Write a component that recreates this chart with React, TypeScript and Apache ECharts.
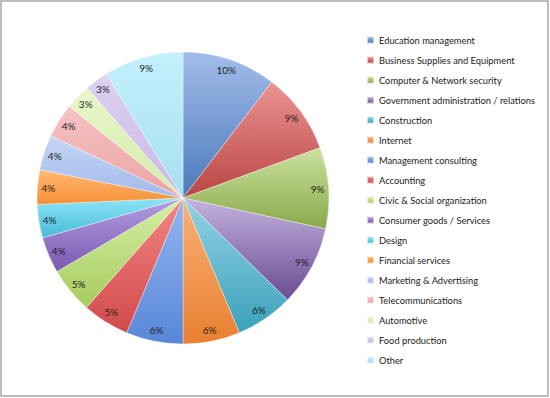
import React, { useEffect, useRef } from "react";
import * as echarts from "echarts";

const categories = [
  "Education management",
  "Business Supplies and Equipment",
  "Computer & Network security",
  "Government administration / relations",
  "Construction",
  "Internet",
  "Management consulting",
  "Accounting",
  "Civic & Social organization",
  "Consumer goods / Services",
  "Design",
  "Financial services",
  "Marketing & Advertising",
  "Telecommunications",
  "Automotive",
  "Food production",
  "Other",
];

const values = [10.4, 9.0, 9.0, 8.9, 6.4, 6.3, 6.3, 5.2, 5.1, 4.0, 3.7, 3.8, 3.9, 3.8, 2.8, 2.6, 8.8];

const topColors = [
  "#a2bdea", "#eb9492", "#cbe29f", "#c3b3de", "#93d3e6", "#f9b27a",
  "#94b7f1", "#f28684", "#d6f0a4", "#b49fe2", "#8ce5f8", "#ffbb74",
  "#c4d6f5", "#f5c3c3", "#e9f8cb", "#ddd2f1", "#c3f1fc",
];
const bottomColors = [
  "#4a78ba", "#b94543", "#89a94a", "#6a4b92", "#3aa1ba", "#e87f30",
  "#5886d8", "#d24a4a", "#a6cb5e", "#7a58b0", "#46bbd7", "#f78e36",
  "#a2baeb", "#eba3a3", "#d2eaaa", "#c8b8e2", "#a6dff0",
];

export default function App() {
  const ref = useRef<HTMLDivElement>(null);
  useEffect(() => {
    if (!ref.current) return;
    const chart = echarts.init(ref.current, null, { renderer: "svg" });
    const data = categories.map((name, i) => ({
      name,
      value: values[i],
      itemStyle: {
        color: new echarts.graphic.LinearGradient(0, 0, 0, 1, [
          { offset: 0, color: topColors[i] },
          { offset: 1, color: bottomColors[i] },
        ]),
      },
    }));
    chart.setOption({
      animation: false,
      backgroundColor: "#ffffff",
      graphic: [
        {
          type: "rect",
          shape: { x: 1, y: 1, width: 547, height: 395 },
          style: { fill: "none", stroke: "#bdbdbd", lineWidth: 2 },
          z: 100,
        },
      ],
      legend: {
        orient: "vertical",
        left: 366,
        top: 34,
        padding: 0,
        itemWidth: 7,
        itemHeight: 7,
        itemGap: 8,
        icon: "rect",
        textStyle: {
          fontFamily: "Lato, 'Open Sans', sans-serif",
          fontSize: 9.3,
          lineHeight: 12,
          color: "#1a1a1a",
        },
        data: categories,
      },
      series: [
        {
          type: "pie",
          name: "main",
          center: [183, 198],
          radius: [0, 146],
          startAngle: 90,
          clockwise: true,
          avoidLabelOverlap: false,
          label: { show: false },
          labelLine: { show: false },
          itemStyle: { borderColor: "rgba(255,255,255,0.6)", borderWidth: 0.6 },
          emphasis: { disabled: true },
          data,
        },
        {
          type: "pie",
          name: "labels",
          center: [183, 198],
          radius: [118, 146],
          startAngle: 90,
          clockwise: true,
          silent: true,
          avoidLabelOverlap: false,
          itemStyle: { color: "rgba(0,0,0,0)", opacity: 0 },
          label: {
            show: true,
            position: "inside",
            fontFamily: "Lato, 'Open Sans', sans-serif",
            fontSize: 10,
            color: "#1e1e1e",
            opacity: 1,
            formatter: (p: any) => Math.round(p.percent) + "%",
          },
          labelLine: { show: false },
          emphasis: { disabled: true },
          data: categories.map((name, i) => ({
            name: name + " ",
            value: values[i],
            label: { opacity: 1 },
          })),
        },
      ],
    });
    return () => chart.dispose();
  }, []);
  return (
    <div
      ref={ref}
      style={{ position: "absolute", left: 0, top: 0, width: 550, height: 398 }}
    />
  );
}
